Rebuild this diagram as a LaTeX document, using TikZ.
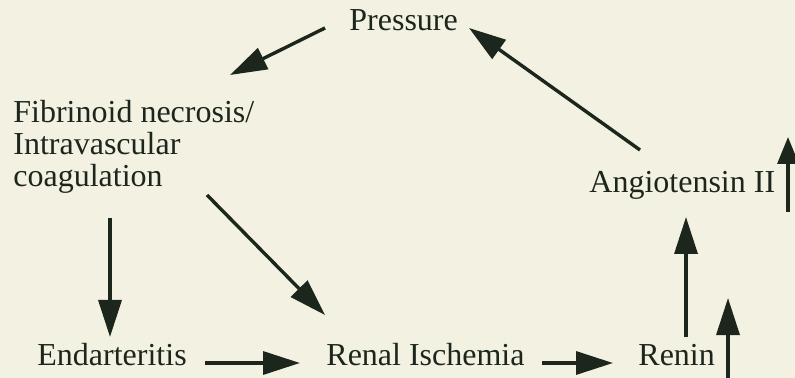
\documentclass[tikz,border=0pt]{standalone}
\usepackage{fontspec}
\setmainfont{Liberation Serif}
\usetikzlibrary{arrows.meta,calc}
\definecolor{bgc}{HTML}{F3F1E1}
\definecolor{ink}{HTML}{1C261C}
\begin{document}
\begin{tikzpicture}[x=0.5pt,y=-0.5pt,
  lbl/.style={anchor=base west,inner sep=0pt,text=ink,font=\fontsize{16}{16}\selectfont,align=left},
  arr/.style={draw=ink,line width=1.7pt,-{Triangle[length=18.5pt,width=11.5pt]}},
  arrs/.style={draw=ink,line width=1.7pt,-{Triangle[length=13.5pt,width=10.5pt]}}]
\fill[bgc] (0,0) rectangle (795,378);
\useasboundingbox (0,0) rectangle (795,378);
\node[lbl] (press) at (349,31) {Pressure};
\node[lbl] (fib) at (13,187) {Fibrinoid necrosis/\\Intravascular\\coagulation};
\node[lbl] (endart) at (37,365) {Endarteritis};
\node[lbl] (renal) at (326,365) {Renal Ischemia};
\node[lbl] (renin) at (638,365) {Renin};
\node[lbl] (angio) at (589,193) {Angiotensin II};
\draw[arr] ($(press.base west)+(-24,-3)$) -- ($(fib.base west)+(217,-112)$);
\draw[arr] ($(angio.base west)+(51,-43)$) -- ($(press.base west)+(120,-3)$);
\draw[arrs] ($(angio.base west)+(199,19)$) -- ($(angio.base west)+(199,-56)$);
\draw[arr] ($(fib.base west)+(97,31)$) -- ($(endart.base west)+(73,-28)$);
\draw[arr] ($(fib.base west)+(194,8)$) -- ($(renal.base west)+(-1,-50)$);
\draw[arr] ($(endart.base west)+(168,-2)$) -- ($(renal.base west)+(-26,-2)$);
\draw[arr] ($(renal.base west)+(216,-2)$) -- ($(renin.base west)+(-25,-2)$);
\draw[arr] ($(renin.base west)+(48,-28)$) -- ($(angio.base west)+(97,24)$);
\draw[arr] ($(renin.base west)+(90,13)$) -- ($(renin.base west)+(90,-67)$);
\end{tikzpicture}
\end{document}
